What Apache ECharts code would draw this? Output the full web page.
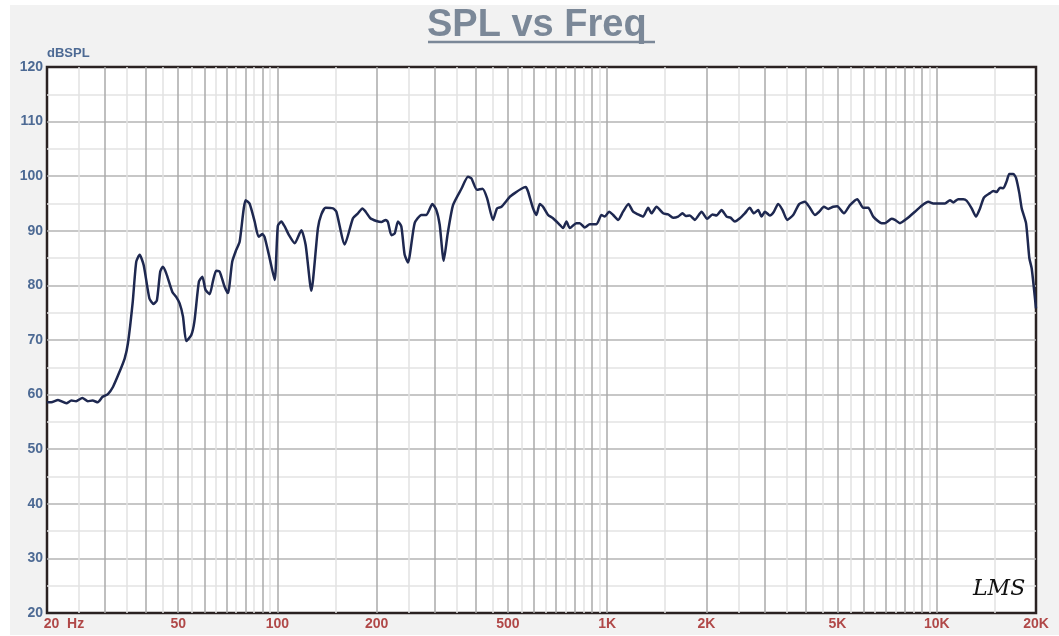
<!DOCTYPE html>
<html>
<head>
<meta charset="utf-8">
<title>SPL vs Freq</title>
<script src="https://cdn.jsdelivr.net/npm/echarts@6/dist/echarts.min.js"></script>
<style>
  html, body { margin: 0; padding: 0; background: #fff; }
  #chart { width: 1059px; height: 636px; }
</style>
</head>
<body>
<div id="chart"></div>
<script>
// frequency (Hz) and level (dB SPL)
var freqs = [
  20, 20.6, 21.6, 22.9, 23.7, 24.5, 25.6, 26.6, 27.5, 28.5, 29.5, 30.6, 31.7,
  33.2, 34.4, 35.2, 36.4, 37.3, 38.2, 39.3,
  40.9, 42.1, 43.1, 44.1, 44.9, 46.0, 48.0, 49.3, 50.5, 51.7,
  52.9, 54.8, 56.0, 57.8, 59.2, 60.5, 62.3, 63.7, 65.2, 66.8,
  69.1, 70.8, 72.9, 75.0, 76.8, 80.1, 82.3, 85.3, 87.7, 90.0,
  91.4, 94.7, 98.1, 100.3, 102.8, 105.2, 108.4, 112.8, 118.2, 121.8,
  126.7, 132.7, 135.9, 140.0, 147.4, 150.9, 160.0, 169.5, 175.5, 181.0,
  185.2, 191.4, 199.6, 206.7, 213.0, 216.4, 221.6, 226.8, 232.1, 237.6,
  243.2, 248.9, 260.8, 273.3, 283.0, 295.1, 303.5, 310.6, 319.4, 328.5,
  340.9, 361.5, 378.5, 387.7, 403.1, 418.7, 432.4, 450.8, 463.6, 478.1,
  506.6, 524.6, 549.7, 566.5, 575.7, 596.2, 610.6, 624.8, 639.3, 662.1,
  685.5, 718.5, 735.2, 752.9, 770.4, 807.3, 826.2, 855.6, 886.0, 928.4,
  961.6, 984, 1014, 1043, 1080, 1118, 1161, 1199, 1242, 1286,
  1332, 1364, 1412, 1479, 1531, 1586, 1642, 1694, 1733, 1782,
  1846, 1934, 2011, 2088, 2148, 2224, 2304, 2368, 2441, 2528,
  2617, 2710, 2787, 2872, 2942, 3011, 3118, 3206, 3303, 3406,
  3517, 3668, 3825, 3980, 4102, 4270, 4400, 4547, 4686, 4852,
  4990, 5228, 5453, 5738, 5984, 6197, 6417, 6804, 6962, 7298,
  7468, 7734, 8104, 8587, 9000, 9425, 9760, 10107, 10591, 10968,
  11222, 11621, 12034, 12323, 12761, 13150, 13524, 13908, 14504, 14842,
  15198, 15552, 15914, 16300, 16598, 17068, 17394, 17800, 18102, 18656, 19090, 19410, 20000
]
var spl = [
  58.6, 58.6, 59.0, 58.4, 58.9, 58.8, 59.4, 58.8, 58.9, 58.6, 59.6, 60.1, 61.4,
  64.2, 66.6, 69.4, 77.0, 84.3, 85.6, 83.7,
  77.6, 76.6, 77.3, 82.5, 83.4, 82.2, 78.8, 77.9, 76.7, 74.3,
  69.8, 70.9, 73.4, 80.7, 81.6, 79.2, 78.4, 80.7, 82.7, 82.5,
  79.8, 78.6, 84.3, 86.5, 88.0, 95.6, 95.0, 91.7, 88.9, 89.4,
  88.9, 85.0, 81.0, 90.9, 91.7, 90.8, 89.2, 87.7, 90.1, 87.4,
  79.0, 90.5, 93.0, 94.2, 94.1, 93.5, 87.5, 92.3, 93.2, 94.1,
  93.5, 92.3, 91.8, 91.6, 92.0, 91.6, 89.2, 89.5, 91.7, 90.8,
  85.6, 84.2, 91.4, 92.9, 92.9, 94.9, 93.8, 91.1, 84.5, 89.5,
  94.7, 97.7, 99.9, 99.6, 97.5, 97.7, 96.0, 92.0, 94.1, 94.4,
  96.2, 96.9, 97.7, 98.0, 97.2, 94.1, 92.9, 94.9, 94.4, 92.9,
  92.3, 91.1, 90.5, 91.7, 90.5, 91.4, 91.4, 90.6, 91.2, 91.2,
  92.9, 92.6, 93.5, 92.9, 92.0, 93.5, 94.9, 93.5, 93.0, 92.6,
  94.2, 93.2, 94.4, 93.2, 93.0, 92.4, 92.6, 93.2, 92.7, 92.8,
  92.0, 93.5, 92.2, 93.0, 92.8, 93.8, 92.6, 92.4, 91.7, 92.3,
  93.2, 94.2, 93.2, 93.8, 92.6, 93.5, 92.8, 93.5, 94.9, 93.8,
  92.0, 92.9, 94.9, 95.3, 94.4, 92.9, 93.5, 94.4, 94.0, 94.4,
  94.5, 93.2, 94.7, 95.8, 94.2, 94.2, 92.6, 91.4, 91.4, 92.2,
  92.0, 91.4, 92.2, 93.5, 94.6, 95.3, 95.0, 95.0, 95.0, 95.6,
  95.2, 95.8, 95.8, 95.5, 94.1, 92.6, 94.1, 96.1, 96.9, 97.3,
  97.1, 97.9, 97.8, 99.1, 100.4, 100.4, 99.7, 96.9, 94.1, 91.4, 85.0, 83.1, 75.8
]

var xLabelValues = [20, 50, 100, 200, 500, 1000, 2000, 5000, 10000, 20000]
var xLabelTexts = ['20  Hz', '50', '100', '200', '500', '1K', '2K', '5K', '10K', '20K']

// grid lines: whole multiples are darker, half steps lighter
var majorLines = []
var minorLines = []
;[10, 100, 1000, 10000].forEach(function(dec) {
  for (var m = 1; m <= 9; m++) {
    var v = m * dec
    if (v > 20 && v < 20000) majorLines.push(v)
    var h = (m + 0.5) * dec
    if (h > 20 && h < 20000) minorLines.push(h)
  }
})

var chart = echarts.init(document.getElementById('chart'))

var data = freqs.map(function(f, i) { return [f, spl[i]] })

var labelFont = 'Arial, "Liberation Sans", sans-serif'

chart.setOption({
  backgroundColor: '#ffffff',
  animation: false,
  title: {
    text: 'SPL vs Freq',
    left: 427,
    top: 7,
    padding: 0,
    textStyle: {
      fontFamily: labelFont,
      fontSize: 38,
      fontWeight: 'bold',
      color: '#7b8898'
    }
  },
  graphic: [
    {
      type: 'rect',
      z: -10,
      shape: { x: 10, y: 5, width: 1049, height: 630 },
      style: { fill: '#f2f2f2' }
    },
    {
      type: 'line',
      shape: { x1: 428, y1: 42, x2: 655, y2: 42 },
      style: { stroke: '#7b8898', lineWidth: 2.5 }
    },
    {
      type: 'text',
      left: 973,
      top: 578,
      z: 10,
      style: {
        text: 'LMS',
        fill: '#111',
        font: 'italic 22px "DejaVu Serif", serif'
      }
    },
    {
      type: 'text',
      left: 975,
      top: 580,
      z: 10,
      style: { text: '™', fill: '#333', font: '5px sans-serif' }
    }
  ],
  grid: {
    left: 47,
    right: 23,
    top: 67,
    bottom: 23,
    show: true,
    backgroundColor: '#ffffff',
    borderColor: '#2a2222',
    borderWidth: 2.5
  },
  xAxis: [
    {
      type: 'log',
      logBase: 10,
      position: 'bottom',
      min: 20,
      max: 20000,
      axisLine: { show: false },
      axisTick: { show: false, customValues: minorLines },
      axisLabel: { show: false },
      splitLine: { show: true, lineStyle: { color: '#e2e2e2', width: 1.5 } }
    },
    {
      type: 'log',
      logBase: 10,
      position: 'bottom',
      min: 20,
      max: 20000,
      axisLine: { show: false },
      axisTick: { show: false, customValues: majorLines },
      axisLabel: {
        customValues: xLabelValues,
        margin: 4,
        color: '#b04848',
        fontFamily: labelFont,
        fontSize: 14,
        fontWeight: 'bold',
        formatter: function(val) {
          var i = xLabelValues.indexOf(val)
          var t = i >= 0 ? xLabelTexts[i] : ''
          if (val === 20) return '{hz|' + t + '}'
          return t
        },
        rich: {
          hz: {
            padding: [0, 0, 0, 34],
            color: '#b04848',
            fontFamily: labelFont,
            fontSize: 14,
            fontWeight: 'bold'
          }
        }
      },
      splitLine: { show: true, lineStyle: { color: '#aaaaaa', width: 1.5 } }
    }
  ],
  yAxis: {
    type: 'value',
    min: 20,
    max: 120,
    interval: 10,
    name: 'dBSPL',
    nameLocation: 'end',
    nameGap: 5,
    nameTextStyle: {
      align: 'left',
      color: '#4d6a94',
      fontFamily: labelFont,
      fontSize: 13,
      fontWeight: 'bold'
    },
    axisLine: { show: false },
    axisTick: { show: false },
    axisLabel: {
      margin: 4,
      color: '#4d6a94',
      fontFamily: labelFont,
      fontSize: 14,
      fontWeight: 'bold'
    },
    splitLine: { show: true, showMinLine: false, showMaxLine: false, lineStyle: { color: '#b4b4b4', width: 1.5 } },
    minorTick: { show: false, splitNumber: 2 },
    minorSplitLine: { show: true, lineStyle: { color: '#e4e4e4', width: 1.5 } }
  },
  series: [{
    name: 'SPL',
    type: 'line',
    xAxisIndex: 1,
    data: data,
    symbol: 'none',
    smooth: 0.2,
    z: 5,
    lineStyle: { color: '#1e2850', width: 2.5 }
  }]
})
</script>
</body>
</html>
